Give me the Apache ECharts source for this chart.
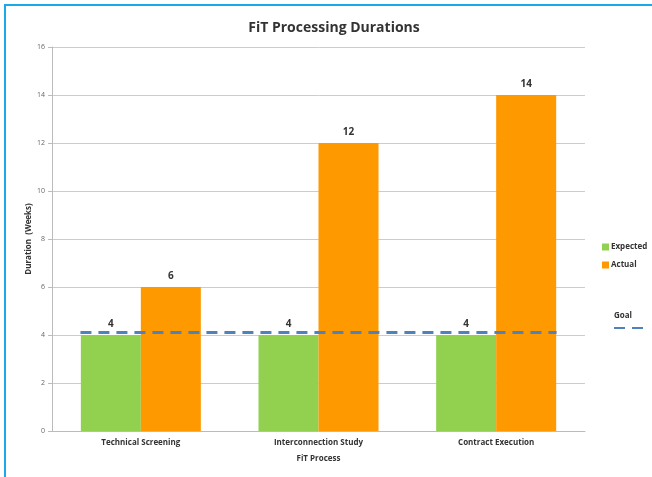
<!DOCTYPE html>
<html>
<head>
<meta charset="utf-8">
<script src="https://cdn.jsdelivr.net/npm/echarts@6/dist/echarts.min.js"></script>
<style>
  html, body { margin: 0; padding: 0; background: #fff; }
  #frame {
    position: absolute; left: 4px; top: 4px; right: 0; bottom: 0;
    border-top: 2px solid #1ba9e9; border-left: 2px solid #1ba9e9;
  }
  #chart { position: absolute; left: 0; top: 0; width: 652px; height: 477px; }
</style>
</head>
<body>
<div id="frame"></div>
<div id="chart"></div>
<script>
  // values
  const categories = ['Technical Screening', 'Interconnection Study', 'Contract Execution'];
  const expected = [4, 4, 4];
  const actual = [6, 12, 14];
  const goal = 4.1;
  const goalSpan = [-0.34, 2.34]; // in category index units, from first bar edge to last bar edge
  const yTicks = [0, 2, 4, 6, 8, 10, 12, 14, 16];

  const chart = echarts.init(document.getElementById('chart'));
  const font = '"Open Sans", "Liberation Sans", sans-serif';

  const option = {
    animation: false,
    textStyle: { fontFamily: font },
    title: {
      text: 'FiT Processing Durations',
      left: 329, top: 16, textAlign: 'center',
      textStyle: { fontSize: 14, fontWeight: 'bold', color: '#333', fontFamily: font }
    },
    legend: [
      {
        data: ['Expected', 'Actual'],
        orient: 'vertical',
        left: 597, top: 238,
        itemWidth: 7, itemHeight: 7, itemGap: 10,
        icon: 'rect',
        textStyle: { fontSize: 8, fontWeight: 'bold', color: '#333', padding: [0, 0, 0, -3] }
      },
      {
        data: ['Goal'],
        left: 608, top: 319,
        itemWidth: 32, itemHeight: 8,
        formatter: () => '',
        itemStyle: { opacity: 0 }
      }
    ],
    graphic: [{
      type: 'text', left: 614, top: 312,
      style: { text: 'Goal', fontSize: 8, fontWeight: 'bold', fill: '#333', fontFamily: font }
    }],
    grid: { left: 52, right: 67, top: 47, bottom: 46 },
    xAxis: [
      {
        type: 'category',
        data: categories,
        axisLine: { lineStyle: { color: '#bbb' } },
        axisTick: { show: false },
        axisLabel: { fontSize: 8, fontWeight: 'bold', color: '#333', margin: 8 },
        name: 'FiT Process',
        nameLocation: 'middle',
        nameGap: 24,
        nameTextStyle: { fontSize: 8, fontWeight: 'bold', color: '#333' }
      },
      {
        type: 'value', min: -0.5, max: 2.5, show: false
      }
    ],
    yAxis: {
      type: 'value',
      min: yTicks[0], max: yTicks[yTicks.length - 1], interval: 2,
      axisLine: { show: true, onZero: false, lineStyle: { color: '#bbb' } },
      axisTick: { show: true, length: 4, lineStyle: { color: '#bbb' } },
      axisLabel: { fontSize: 7, color: '#666', margin: 7 },
      splitLine: { lineStyle: { color: '#ccc' } },
      name: 'Duration  (Weeks)',
      nameLocation: 'middle',
      nameGap: 19,
      nameMoveOverlap: false,
      nameTextStyle: { fontSize: 8, fontWeight: 'bold', color: '#333' }
    },
    series: [
      {
        name: 'Expected', type: 'bar', data: expected,
        barWidth: 60, barGap: '0%',
        itemStyle: { color: '#92d050' },
        label: { show: true, position: 'top', distance: 6, fontSize: 10, fontWeight: 'bold', color: '#333' }
      },
      {
        name: 'Actual', type: 'bar', data: actual,
        barWidth: 60,
        itemStyle: { color: '#ff9900' },
        label: { show: true, position: 'top', distance: 6, fontSize: 10, fontWeight: 'bold', color: '#333' }
      },
      {
        name: 'Goal', type: 'line', xAxisIndex: 1,
        data: goalSpan.map(x => [x, goal]),
        symbol: 'none',
        z: 5,
        lineStyle: { color: '#4f81bd', width: 3, type: [11, 7] }
      }
    ]
  };
  chart.setOption(option);
</script>
</body>
</html>
